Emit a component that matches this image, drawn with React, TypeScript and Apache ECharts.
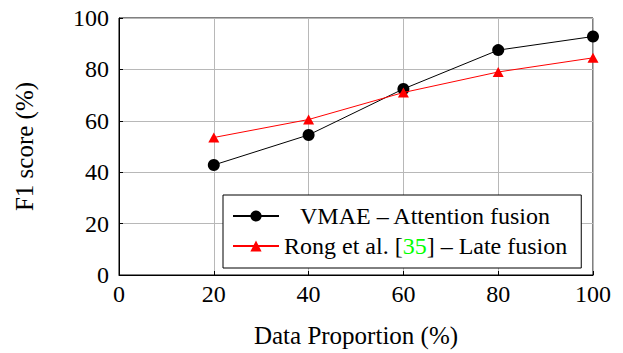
import React, { useEffect, useRef } from "react";
import * as echarts from "echarts";

const proportions = [20, 40, 60, 80, 100];
const vmaeValues = [42.8, 54.5, 72.4, 87.5, 92.8];
const rongValues = [53.5, 60.5, 71.0, 79.0, 84.5];
const seriesNames = ["VMAE – Attention fusion", "Rong et al. [35] – Late fusion"];
const xAxisName = "Data Proportion (%)";
const yAxisName = "F1 score (%)";

const FONT = "Liberation Serif";

export default function App() {
  const ref = useRef<HTMLDivElement>(null);
  useEffect(() => {
    if (!ref.current) return;
    const chart = echarts.init(ref.current, null, { renderer: "svg" });
    chart.setOption({
      animation: false,
      textStyle: { fontFamily: FONT, color: "#000" },
      grid: {
        left: 119,
        right: 30,
        top: 18,
        bottom: 77,
        show: true,
        borderColor: "#000",
        borderWidth: 1,
      },
      xAxis: {
        type: "value",
        min: 0,
        max: 100,
        interval: 20,
        name: xAxisName,
        nameLocation: "middle",
        nameGap: 48,
        nameTextStyle: { fontFamily: FONT, fontSize: 25, color: "#000" },
        axisLine: { show: true, lineStyle: { color: "#000", width: 1 } },
        axisTick: { show: true, inside: true, length: 4, lineStyle: { color: "#000" } },
        axisLabel: { fontFamily: FONT, fontSize: 24, color: "#000", margin: 7 },
        splitLine: { show: true, lineStyle: { color: "#b8b8b8", width: 1 } },
      },
      yAxis: {
        type: "value",
        min: 0,
        max: 100,
        interval: 20,
        name: yAxisName,
        nameLocation: "middle",
        nameGap: 82,
        nameTextStyle: { fontFamily: FONT, fontSize: 25, color: "#000" },
        axisLine: { show: true, lineStyle: { color: "#000", width: 1 } },
        axisTick: { show: true, inside: true, length: 4, lineStyle: { color: "#000" } },
        axisLabel: { fontFamily: FONT, fontSize: 24, color: "#000", margin: 10 },
        splitLine: { show: true, lineStyle: { color: "#b8b8b8", width: 1 } },
      },
      legend: {
        orient: "vertical",
        left: 223,
        top: 195,
        padding: [9, 14, 10, 9],
        itemGap: 6,
        itemWidth: 46,
        itemHeight: 14,
        borderColor: "#000",
        borderWidth: 1,
        backgroundColor: "#fff",
        data: seriesNames,
        formatter: (name: string) =>
          name === seriesNames[0]
            ? "{c|" + name + "}"
            : "{t|Rong et al. [}{g|35}{t|] – Late fusion}",
        textStyle: {
          fontFamily: FONT,
          fontSize: 24,
          color: "#000",
          rich: {
            c: { fontFamily: FONT, fontSize: 24, color: "#000", width: 282, align: "center" },
            t: { fontFamily: FONT, fontSize: 24, color: "#000" },
            g: { fontFamily: FONT, fontSize: 24, color: "#00ff00" },
          },
        },
      },
      series: [
        {
          name: seriesNames[0],
          type: "line",
          data: proportions.map((x, i) => [x, vmaeValues[i]]),
          symbol: "circle",
          symbolSize: 12,
          itemStyle: { color: "#000" },
          lineStyle: { color: "#000", width: 1 },
          z: 3,
        },
        {
          name: seriesNames[1],
          type: "line",
          data: proportions.map((x, i) => [x, rongValues[i]]),
          symbol: "triangle",
          symbolSize: [11, 10],
          itemStyle: { color: "#ff0000" },
          lineStyle: { color: "#ff0000", width: 1 },
          z: 4,
        },
      ],
    });
    return () => chart.dispose();
  }, []);
  return (
    <div
      ref={ref}
      style={{ position: "fixed", left: 0, top: 0, width: 623, height: 353, background: "#fff" }}
    />
  );
}
